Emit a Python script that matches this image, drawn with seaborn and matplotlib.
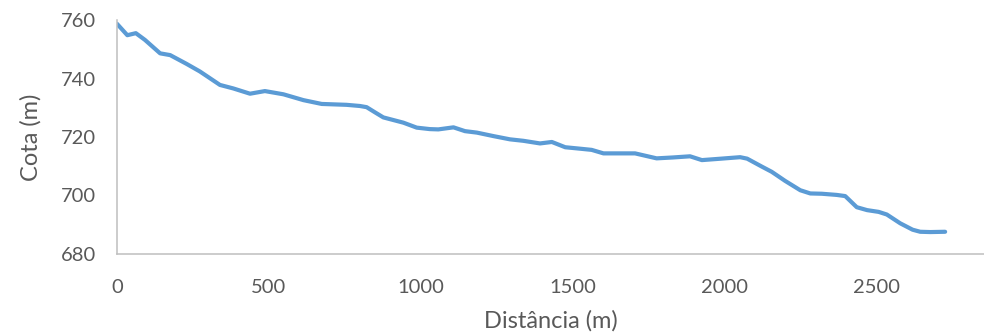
import numpy as np
import pandas as pd
import matplotlib
matplotlib.use("Agg")
import matplotlib.pyplot as plt
import seaborn as sns

# Perfil longitudinal
distancia = [0, 34, 62, 92, 142, 175, 229, 273, 339, 383, 438, 487, 548, 614,
             674, 756, 800, 822, 850, 877, 943, 987, 1030, 1058, 1108, 1146,
             1185, 1240, 1294, 1338, 1393, 1432, 1476, 1525, 1563, 1602, 1706,
             1777, 1830, 1887, 1926, 1990, 2052, 2075, 2123, 2156, 2200, 2250,
             2283, 2321, 2370, 2398, 2436, 2470, 2508, 2535, 2579, 2620, 2645,
             2678, 2727]
cota = [758.7, 754.8, 755.5, 753.2, 748.6, 748.0, 745.0, 742.4, 737.8, 736.6,
        734.8, 735.7, 734.6, 732.6, 731.3, 731.0, 730.6, 730.2, 728.4, 726.7,
        724.9, 723.2, 722.7, 722.6, 723.3, 722.0, 721.5, 720.3, 719.2, 718.7,
        717.8, 718.3, 716.5, 716.0, 715.6, 714.4, 714.4, 712.7, 713.0, 713.4,
        712.1, 712.6, 713.1, 712.6, 709.9, 708.1, 705.0, 701.8, 700.7, 700.6,
        700.2, 699.8, 696.0, 695.0, 694.4, 693.5, 690.5, 688.3, 687.6, 687.5,
        687.6]

df = pd.DataFrame({"Distância (m)": distancia, "Cota (m)": cota})

sns.set_style("white")
plt.rcParams["font.family"] = ["Lato", "DejaVu Sans"]

fig = plt.figure(figsize=(9.84, 3.36), dpi=100)
ax = fig.add_axes([117 / 984, 1 - 254 / 336, 1 - 117 / 984, 234 / 336])

sns.lineplot(data=df, x="Distância (m)", y="Cota (m)", ax=ax,
             color="#5B9BD5", linewidth=3.0, solid_joinstyle="round",
             solid_capstyle="round")

ax.set_xlim(0, 2855)
ax.set_ylim(680, 760)
ax.set_xticks([0, 500, 1000, 1500, 2000, 2500])
ax.set_yticks([680, 700, 720, 740, 760])

for s in ["top", "right"]:
    ax.spines[s].set_visible(False)
for s in ["left", "bottom"]:
    ax.spines[s].set_color("#BFBFBF")
    ax.spines[s].set_linewidth(1.1)

ax.tick_params(axis="y", length=0, pad=15, labelsize=14.5, labelcolor="#595959")
ax.tick_params(axis="x", length=0, pad=18, labelsize=14.5, labelcolor="#595959")
ax.set_xlabel("Distância (m)", fontsize=17, color="#595959", labelpad=10)
ax.set_ylabel("Cota (m)", fontsize=17, color="#595959", labelpad=14)

fig.savefig("out.png", dpi=100)
